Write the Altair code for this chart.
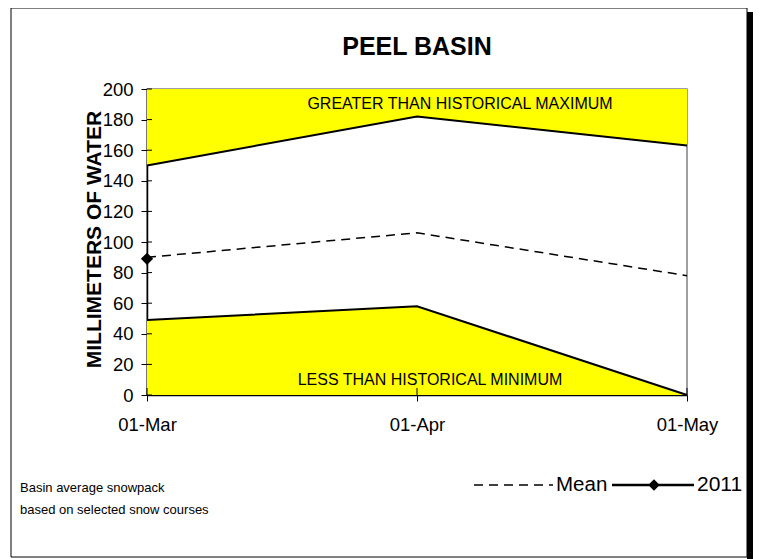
import altair as alt
import pandas as pd

dates = ["01-Mar", "01-Apr", "01-May"]
hist_max = [150, 182, 163]
mean_vals = [90, 106, 78]
hist_min = [49, 58, 0]
obs_dates = ["01-Mar"]
obs_2011 = [89]
y_top = 200
y_ticks = list(range(0, 201, 20))

FONT = "Liberation Sans"
W, H = 540, 306

df = pd.DataFrame({"date": dates, "max": hist_max, "mean": mean_vals, "min": hist_min,
                   "top": [y_top] * len(dates), "bottom": [0] * len(dates)})
obs = pd.DataFrame({"date": obs_dates, "value": obs_2011})
ticks_df = pd.DataFrame({"v": y_ticks})
one = pd.DataFrame({"k": [0]})

xs = alt.Scale(type="point", domain=dates, padding=0)
ys = alt.Scale(domain=[0, 200], nice=False, zero=True)

x_axis = alt.Axis(title=None, labelFontSize=18.5, labelFont=FONT, labelColor="black",
                  labelPadding=14, tickSize=6, tickColor="black", domainColor="black",
                  domainWidth=1.5, labelAngle=0, labelOverlap=False)
y_axis = alt.Axis(title="MILLIMETERS OF WATER", titleFontSize=21, titleFont=FONT,
                  titleFontWeight="bold", titleColor="black", titleAngle=270,
                  titleX=-53, titleY=150, titleAlign="center", titleBaseline="middle",
                  values=y_ticks, labelFontSize=18.5, labelFont=FONT, labelColor="black",
                  labelPadding=8, tickSize=6, tickColor="black", domainColor="black",
                  domainWidth=1.5, grid=False, labelOverlap=False)


def xe():
    return alt.X("date:N", scale=xs, sort=dates, axis=x_axis)


def ye(f):
    return alt.Y(f, scale=ys, axis=y_axis)


base = alt.Chart(df)

upper = base.mark_area(color="#ffff00", opacity=1).encode(x=xe(), y=ye("max:Q"), y2="top:Q")
lower = base.mark_area(color="#ffff00", opacity=1).encode(x=xe(), y=ye("bottom:Q"), y2="min:Q")
max_line = base.mark_line(color="black", strokeWidth=2).encode(x=xe(), y=ye("max:Q"))
min_line = base.mark_line(color="black", strokeWidth=2).encode(x=xe(), y=ye("min:Q"))
mean_line = base.mark_line(color="black", strokeWidth=1.5, strokeDash=[9, 6]).encode(
    x=xe(), y=ye("mean:Q"))
pt2011 = alt.Chart(obs).mark_point(shape="diamond", filled=True, color="black", size=150, opacity=1).encode(
    x=xe(), y=ye("value:Q"))

# inner halves of crossing ticks
ytick_in = alt.Chart(ticks_df).mark_rule(color="black", strokeWidth=1).encode(
    x=alt.value(0), x2=alt.value(5), y=ye("v:Q"))
xtick_in = alt.Chart(pd.DataFrame({"date": dates})).mark_rule(color="black", strokeWidth=1).encode(
    x=xe(), y=alt.value(H - 7), y2=alt.value(H))


def txt(s, x, y, size, align="left", weight="normal"):
    return alt.Chart(one).mark_text(text=s, font=FONT, fontSize=size, align=align,
                                    baseline="middle", fontWeight=weight, color="black").encode(
        x=alt.value(x), y=alt.value(y))


title = txt("PEEL BASIN", 270, -42, 25, "center", "bold")
gt = txt("GREATER THAN HISTORICAL MAXIMUM", 313, 15, 16, "center")
lt = txt("LESS THAN HISTORICAL MINIMUM", 283, 291, 16, "center")
foot1 = txt("Basin average snowpack", -127, 399, 13)
foot2 = txt("based on selected snow courses", -127, 421, 13)
leg_mean = txt("Mean", 409, 396, 20.5)
leg_2011 = txt("2011", 550, 396, 21)

leg_dash = alt.Chart(one).mark_rule(color="black", strokeWidth=1.5, strokeDash=[9, 6]).encode(
    x=alt.value(327), x2=alt.value(406), y=alt.value(396))
leg_solid = alt.Chart(one).mark_rule(color="black", strokeWidth=2.5).encode(
    x=alt.value(465), x2=alt.value(547), y=alt.value(396))
leg_dia = alt.Chart(one).mark_point(shape="diamond", filled=True, color="black", size=130, opacity=1).encode(
    x=alt.value(507), y=alt.value(396))

frame = alt.Chart(one).mark_rect(fill="white", fillOpacity=0, stroke="black", strokeWidth=1).encode(
    x=alt.value(-136), x2=alt.value(600), y=alt.value(-81), y2=alt.value(468))
shadow = alt.Chart(one).mark_rect(fill="black").encode(
    x=alt.value(600), x2=alt.value(606), y=alt.value(-77), y2=alt.value(470))

chart = alt.layer(
    upper, lower, max_line, min_line, mean_line, pt2011, ytick_in, xtick_in,
    title, gt, lt, foot1, foot2, leg_dash, leg_mean, leg_solid, leg_dia, leg_2011,
    frame, shadow
).properties(
    width=W, height=H,
    autosize=alt.AutoSizeParams(type="none"),
    padding={"left": 139, "top": 81, "right": 746 - 139 - W, "bottom": 551 - 81 - H},
    background="white"
).configure_view(stroke="#808080", strokeWidth=1.5).configure_axis(labelOverlap=False)

chart.save("out.html", embed_options={"renderer": "svg", "actions": False})
